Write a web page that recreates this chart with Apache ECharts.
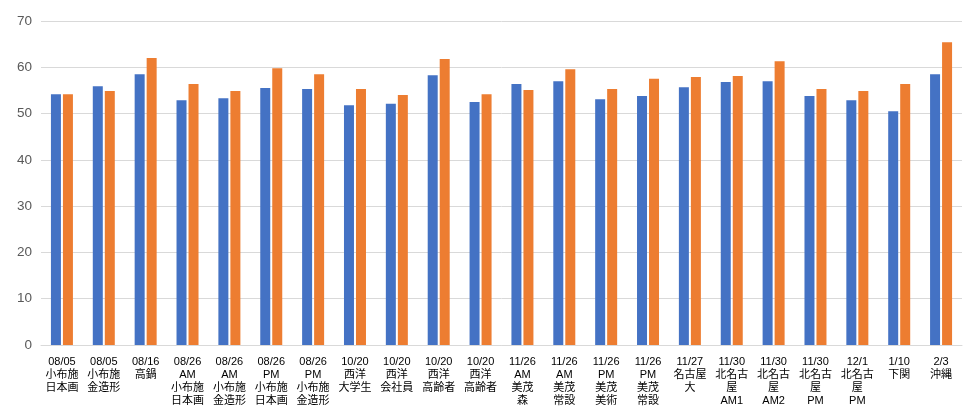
<!DOCTYPE html>
<html>
<head>
<meta charset="utf-8">
<script src="https://cdn.jsdelivr.net/npm/echarts@6/dist/echarts.min.js"></script>
<style>
  html, body { margin: 0; padding: 0; background: #fff; }
  #chart { width: 968px; height: 414px; }
</style>
</head>
<body>
<div id="chart"></div>
<script>
// カテゴリ (x軸)
const categories = [
  '08/05\n小布施\n日本画', '08/05\n小布施\n金造形', '08/16\n高鍋',
  '08/26\nAM\n小布施\n日本画', '08/26\nAM\n小布施\n金造形',
  '08/26\nPM\n小布施\n日本画', '08/26\nPM\n小布施\n金造形',
  '10/20\n西洋\n大学生', '10/20\n西洋\n会社員', '10/20\n西洋\n高齢者', '10/20\n西洋\n高齢者',
  '11/26\nAM\n美茂\n森', '11/26\nAM\n美茂\n常設', '11/26\nPM\n美茂\n美術', '11/26\nPM\n美茂\n常設',
  '11/27\n名古屋\n大', '11/30\n北名古\n屋\nAM1', '11/30\n北名古\n屋\nAM2',
  '11/30\n北名古\n屋\nPM', '12/1\n北名古\n屋\nPM', '1/10\n下関', '2/3\n沖縄'
]
const seriesA = [54.2, 55.9, 58.5, 52.9, 53.3, 55.5, 55.3, 51.8, 52.1, 58.3, 52.5,
  56.4, 57.0, 53.1, 53.8, 55.7, 56.8, 57.0, 53.8, 52.9, 50.5, 58.5]
const seriesB = [54.2, 54.9, 62.0, 56.4, 54.9, 59.8, 58.5, 55.3, 54.0, 61.8, 54.2,
  55.1, 59.6, 55.3, 57.5, 57.9, 58.1, 61.3, 55.3, 54.9, 56.4, 65.4]
const yTicks = [0, 10, 20, 30, 40, 50, 60, 70]

const myChart = echarts.init(document.getElementById('chart'))
myChart.setOption({
  animation: false,
  grid: { left: 41, right: 6, top: 21, bottom: 69 },
  xAxis: {
    type: 'category',
    data: categories,
    axisLine: { show: true, lineStyle: { color: '#d9d9d9' } },
    axisTick: { show: false },
    axisLabel: {
      interval: 0,
      color: '#000',
      fontSize: 11,
      lineHeight: 13,
      margin: 10,
      fontFamily: '"Liberation Sans", "Noto Sans CJK JP", sans-serif'
    }
  },
  yAxis: {
    type: 'value',
    min: yTicks[0],
    max: yTicks[yTicks.length - 1],
    interval: 10,
    axisLine: { show: false },
    axisTick: { show: false },
    splitLine: { lineStyle: { color: '#d9d9d9' } },
    axisLabel: {
      color: '#595959',
      fontSize: 13.5,
      margin: 9,
      fontFamily: '"Liberation Sans", sans-serif'
    }
  },
  series: [
    { type: 'bar', data: seriesA, barWidth: 10, barGap: '20%', itemStyle: { color: '#4472C4' } },
    { type: 'bar', data: seriesB, barWidth: 10, itemStyle: { color: '#ED7D31' } }
  ]
})
</script>
</body>
</html>
